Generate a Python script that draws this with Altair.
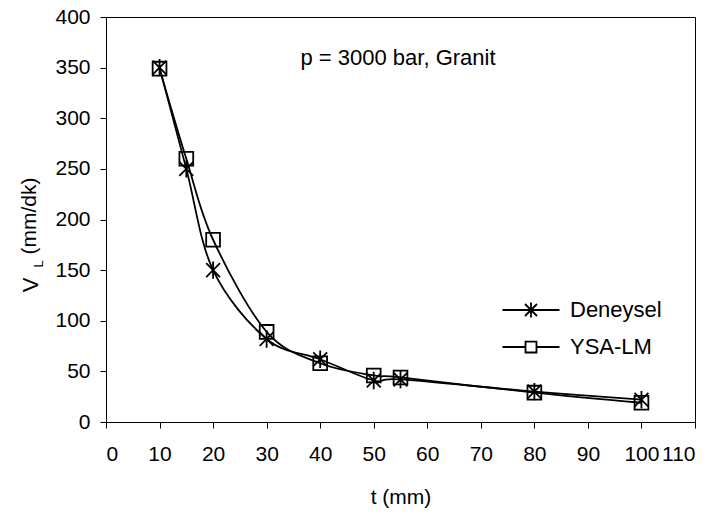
import altair as alt
import pandas as pd

# ---- data ----
t_values = [10, 15, 20, 30, 40, 50, 55, 80, 100]
deneysel = [350, 250, 150, 82, 62, 41, 42, 30, 22]
ysa_lm = [349, 260, 180, 89, 58, 46, 44, 29, 19]
series_names = ["Deneysel", "YSA-LM"]
x_ticks = list(range(0, 111, 10))
y_ticks = list(range(0, 401, 50))
annotation = ["p = 3000 bar, Granit"]
x_title = "t (mm)"
y_title_main = ["V"]
y_title_sub = ["L"]
y_title_unit = ["(mm/dk)"]

df = pd.DataFrame({
    "t": t_values * 2,
    "v": deneysel + ysa_lm,
    "series": [series_names[0]] * len(t_values) + [series_names[1]] * len(t_values),
})

FONT = "Liberation Sans"
W, H = 589, 405

ast_path = "M-0.8,-0.8L0.8,0.8M-0.8,0.8L0.8,-0.8M0,-1L0,1"
leg_ast = "M-3.8,0L3.8,0M-0.8,-0.8L0.8,0.8M-0.8,0.8L0.8,-0.8M0,-1L0,1"
leg_sq = "M-3.8,0L-0.73,0M0.73,0L3.8,0M-0.73,-0.73L0.73,-0.73L0.73,0.73L-0.73,0.73Z"

x_enc = alt.X("t:Q", scale=alt.Scale(domain=[0, 110], nice=False),
              axis=alt.Axis(values=x_ticks, title=x_title, titleFontSize=21,
                            titleFont=FONT, titleFontWeight="normal",
                            titlePadding=22, labelPadding=15))
y_enc = alt.Y("v:Q", scale=alt.Scale(domain=[0, 400], nice=False),
              axis=alt.Axis(values=y_ticks, title=None, labelPadding=10))

lines = alt.Chart(df).mark_line(interpolate="cardinal", color="black", strokeWidth=1.8).encode(
    x=x_enc, y=y_enc, detail="series:N"
)

points = alt.Chart(df).mark_point(filled=False, color="black", strokeWidth=1.8, opacity=1).encode(
    x="t:Q", y="v:Q",
    shape=alt.Shape("series:N", scale=alt.Scale(domain=series_names, range=[ast_path, "square"]), legend=None),
    size=alt.Size("series:N", scale=alt.Scale(domain=series_names, range=[300, 190]), legend=None),
)

legend_layer = alt.Chart(df).transform_filter("false").mark_point(
    filled=False, color="black", strokeWidth=1.8, opacity=1
).encode(
    x="t:Q", y="v:Q",
    shape=alt.Shape("series:N", scale=alt.Scale(domain=series_names, range=[leg_ast, leg_sq]),
                    legend=alt.Legend(title=None, orient="none", legendX=414, legendY=282,
                                      symbolSize=225, symbolStrokeWidth=1.8,
                                      symbolStrokeColor="black", labelFontSize=22,
                                      labelFont=FONT, labelColor="black", labelOffset=28,
                                      rowPadding=14, padding=0)),
)

ann = alt.Chart(pd.DataFrame({"label": annotation})).mark_text(
    font=FONT, fontSize=22, color="black", align="center", baseline="middle"
).encode(text="label:N", x=alt.value(292), y=alt.value(41))

yt_main = alt.Chart(pd.DataFrame({"label": y_title_main})).mark_text(
    font=FONT, fontSize=22, color="black", align="center", baseline="middle", angle=270
).encode(text="label:N", x=alt.value(-75), y=alt.value(268))
yt_sub = alt.Chart(pd.DataFrame({"label": y_title_sub})).mark_text(
    font=FONT, fontSize=13, color="black", align="center", baseline="middle", angle=270
).encode(text="label:N", x=alt.value(-67), y=alt.value(247))
yt_unit = alt.Chart(pd.DataFrame({"label": y_title_unit})).mark_text(
    font=FONT, fontSize=21, color="black", align="center", baseline="middle", angle=270
).encode(text="label:N", x=alt.value(-76), y=alt.value(199))

chart = alt.layer(lines, points, legend_layer, ann, yt_main, yt_sub, yt_unit).resolve_scale(
    shape="independent", size="independent"
).resolve_legend(shape="independent").properties(
    width=W, height=H,
    autosize=alt.AutoSizeParams(type="none"),
    padding={"left": 98, "top": 9, "right": 12, "bottom": 94},
    background="white",
).configure_view(
    stroke="black", strokeWidth=1
).configure_axis(
    domainColor="black", tickColor="black", labelColor="black", grid=False,
    labelFont=FONT, labelFontSize=21, tickSize=6, domainWidth=1, tickWidth=1
)

chart.save("out.html", embed_options={"renderer": "svg", "actions": False})
